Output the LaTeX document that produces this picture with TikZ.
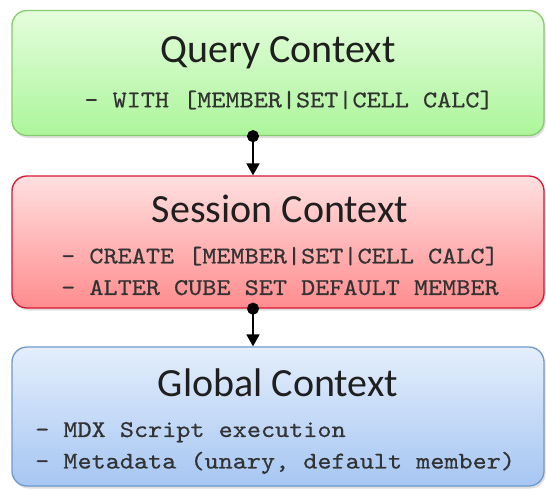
\documentclass[tikz,border=0pt]{standalone}
\usepackage{fontspec}
\setmainfont{Carlito}
\setmonofont{lmmono10-regular}[Extension=.otf, FakeStretch=1.12, FakeBold=0.6]
\usetikzlibrary{arrows.meta,shadows}
\definecolor{querytop}{HTML}{E4FDDC}
\definecolor{querybot}{HTML}{ACF59B}
\definecolor{queryline}{HTML}{86CC6C}
\definecolor{sesstop}{HTML}{FFE0E0}
\definecolor{sessbot}{HTML}{FF8C8E}
\definecolor{sessline}{HTML}{DC1434}
\definecolor{globtop}{HTML}{E4EEFC}
\definecolor{globbot}{HTML}{A6C6F2}
\definecolor{globline}{HTML}{6E9ACC}
\tikzset{
  context/.style={rectangle, rounded corners=15pt, minimum width=532pt, line width=1.3pt,
    drop shadow={shadow xshift=1.5pt, shadow yshift=-2.5pt, opacity=.25}},
  ctxtitle/.style={font=\fontsize{40}{44}\selectfont, text=black!88, anchor=base, inner sep=0pt},
  ctxitems/.style={font=\ttfamily\fontsize{24}{31.5}\selectfont, text=black!80, align=left, inner sep=0pt},
  flow/.style={line width=1.8pt, {Circle[length=12pt]}-{Triangle[width=13pt,length=12pt]}, shorten <=-6pt}
}
\begin{document}
\begin{tikzpicture}[x=1pt, y=-1pt]
\useasboundingbox (0,0) rectangle (546,490);
% the three contexts
\node[context, draw=queryline, top color=querytop, bottom color=querybot, minimum height=125pt] (query) at (278,73) {};
\node[context, draw=sessline, top color=sesstop, bottom color=sessbot, minimum height=132pt] (session) at (278,242) {};
\node[context, draw=globline, top color=globtop, bottom color=globbot, minimum height=139pt] (global) at (278,416.5) {};
% titles
\node[ctxtitle] (querytitle) at (278,62) {Query Context};
\node[ctxtitle] (sesstitle) at (280,222) {Session Context};
\node[ctxtitle] (globtitle) at (278,396) {Global Context};
% statements
\node[ctxitems] (queryitems) at (289,100) {- WITH [MEMBER|SET|CELL CALC]};
\node[ctxitems, anchor=west] (sessitems) at (61,271) {- CREATE [MEMBER|SET|CELL CALC]\\- ALTER CUBE SET DEFAULT MEMBER};
\node[ctxitems, anchor=west] (globitems) at (35,448) {- MDX Script execution\\- Metadata (unary, default member)};
% connectors
\draw[flow] ([xshift=-25pt]query.south) -- ([xshift=-25pt]session.north);
\draw[flow] ([xshift=-25pt]session.south) -- ([xshift=-25pt]global.north);
\end{tikzpicture}
\end{document}
